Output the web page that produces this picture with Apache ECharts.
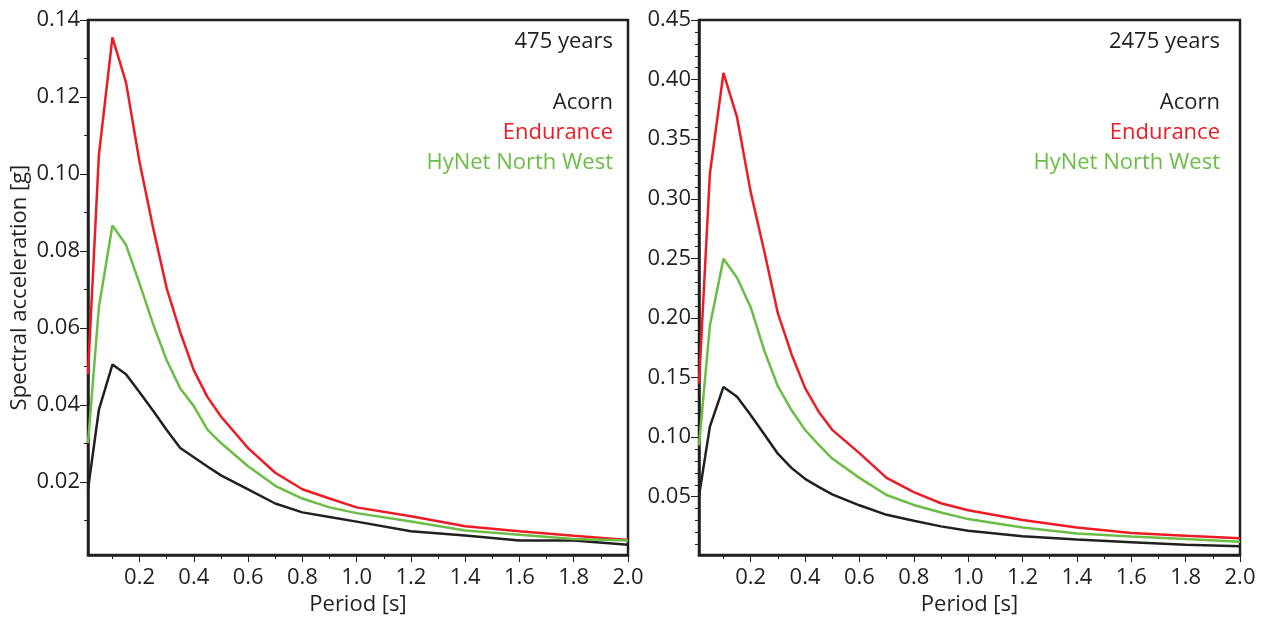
<!DOCTYPE html>
<html>
<head>
<meta charset="utf-8">
<script src="https://cdn.jsdelivr.net/npm/echarts@6/dist/echarts.min.js"></script>
<style>
html,body{margin:0;padding:0;background:#fff;}
#chart{width:1269px;height:621px;}
</style>
</head>
<body>
<div id="chart"></div>
<script>
// ---- data ----
const periods = [0.01,0.05,0.1,0.15,0.2,0.25,0.3,0.35,0.4,0.45,0.5,0.6,0.7,0.8,0.9,1.0,1.2,1.4,1.6,1.8,2.0];

const acorn475     = [0.0181,0.0387,0.0505,0.0480,0.0433,0.0385,0.0335,0.0288,0.0264,0.0240,0.0217,0.0181,0.0144,0.0121,0.0109,0.0097,0.0072,0.0061,0.0048,0.0048,0.0037];
const endurance475 = [0.048,0.1048,0.1355,0.1238,0.1031,0.0860,0.0703,0.0589,0.0490,0.0421,0.0370,0.0288,0.0224,0.0181,0.0157,0.0134,0.0111,0.0085,0.0072,0.0060,0.0049];
const hynet475     = [0.0301,0.0653,0.0866,0.0816,0.0715,0.0610,0.0516,0.0443,0.0397,0.0336,0.0301,0.0241,0.0190,0.0157,0.0134,0.0119,0.0097,0.0074,0.0063,0.0052,0.0048];

const acorn2475     = [0.0506,0.1088,0.1421,0.1338,0.1186,0.1024,0.0861,0.0742,0.0650,0.0583,0.0520,0.0428,0.0348,0.0298,0.0251,0.0215,0.0168,0.0140,0.0118,0.0096,0.0084];
const endurance2475 = [0.145,0.321,0.4057,0.3682,0.3058,0.2559,0.2040,0.1698,0.1413,0.1213,0.1061,0.0866,0.0658,0.0539,0.0445,0.0387,0.0304,0.0242,0.0196,0.0173,0.0151];
const hynet2475     = [0.093,0.1935,0.2497,0.2337,0.2090,0.1727,0.1427,0.1227,0.1061,0.0936,0.0820,0.0658,0.0514,0.0431,0.0367,0.0312,0.0242,0.0192,0.0167,0.0146,0.0123];

const seriesNames = ['Acorn','Endurance','HyNet North West'];
const panelTitles = ['475 years','2475 years'];

const xTickLabels  = ['0.2','0.4','0.6','0.8','1.0','1.2','1.4','1.6','1.8','2.0'];
const xMinorTicks  = ['0.1','0.3','0.5','0.7','0.9','1.1','1.3','1.5','1.7','1.9'];
const yTickLabels475  = ['0.02','0.04','0.06','0.08','0.10','0.12','0.14'];
const yMinorTicks475  = ['0.01','0.03','0.05','0.07','0.09','0.11','0.13'];
const yTickLabels2475 = ['0.05','0.10','0.15','0.20','0.25','0.30','0.35','0.40','0.45'];
const yMinorTicks2475 = ['0.01','0.02','0.03','0.04','0.06','0.07','0.08','0.09','0.11','0.12','0.13','0.14','0.16','0.17','0.18','0.19','0.21','0.22','0.23','0.24','0.26','0.27','0.28','0.29','0.31','0.32','0.33','0.34','0.36','0.37','0.38','0.39','0.41','0.42','0.43','0.44'];

const xRange = [0.01, 2.0];
const yRange475 = [0.001, 0.14];
const yRange2475 = [0.001, 0.45];

// ---- style ----
const INK = '#231f20';
const colors = ['#231f20', '#ed1c24', '#6abd45'];
const FONT = '"Open Sans", "Noto Sans", sans-serif';
const num = a => a.map(Number);

function xAxes(gridIndex) {
  return [
    {
      type: 'value', gridIndex, position: 'bottom', min: xRange[0], max: xRange[1],
      name: 'Period [s]', nameLocation: 'middle', nameGap: 35,
      nameTextStyle: {fontFamily: FONT, fontSize: 22, color: INK},
      axisLine: {show: true, lineStyle: {color: INK, width: 2.5}},
      axisTick: {show: true, length: 7, lineStyle: {color: INK, width: 1}, customValues: num(xTickLabels)},
      axisLabel: {show: true, margin: 12, fontFamily: FONT, fontSize: 22, color: INK,
        customValues: num(xTickLabels), formatter: v => v.toFixed(1)},
      splitLine: {show: false}
    },
    {
      type: 'value', gridIndex, position: 'bottom', min: xRange[0], max: xRange[1],
      axisLine: {show: false},
      axisTick: {show: true, length: 4, lineStyle: {color: INK, width: 1}, customValues: num(xMinorTicks)},
      axisLabel: {show: false},
      splitLine: {show: false}
    }
  ];
}

function yAxes(gridIndex, range, labels, minors, name) {
  return [
    {
      type: 'value', gridIndex, position: 'left', min: range[0], max: range[1],
      name: name, nameLocation: 'middle', nameGap: 57,
      nameTextStyle: {fontFamily: FONT, fontSize: 22, color: INK},
      axisLine: {show: true, lineStyle: {color: INK, width: 2.5}},
      axisTick: {show: true, length: 8, lineStyle: {color: INK, width: 1}, customValues: num(labels)},
      axisLabel: {show: true, margin: 8, fontFamily: FONT, fontSize: 22, color: INK,
        customValues: num(labels), formatter: v => v.toFixed(2)},
      splitLine: {show: false}
    },
    {
      type: 'value', gridIndex, position: 'left', min: range[0], max: range[1],
      axisLine: {show: false},
      axisTick: {show: true, length: 4, lineStyle: {color: INK, width: 1}, customValues: num(minors)},
      axisLabel: {show: false},
      splitLine: {show: false}
    }
  ];
}

function lines(xIdx, yIdx, dataSets) {
  return dataSets.map((vals, i) => ({
    name: seriesNames[i], type: 'line', xAxisIndex: xIdx, yAxisIndex: yIdx,
    data: periods.map((p, k) => [p, vals[k]]),
    showSymbol: false, symbol: 'none',
    lineStyle: {color: colors[i], width: 2.5},
    itemStyle: {color: colors[i]},
    z: 3
  }));
}

function panelText(rightX, title) {
  const rows = [
    {text: title, y: 42, color: INK},
    {text: seriesNames[0], y: 103, color: colors[0]},
    {text: seriesNames[1], y: 133, color: colors[1]},
    {text: seriesNames[2], y: 163, color: colors[2]}
  ];
  return rows.map(r => ({
    type: 'text', x: rightX, y: r.y, z: 10,
    style: {text: r.text, fill: r.color, font: '22px ' + FONT, align: 'right', verticalAlign: 'middle'}
  }));
}

const chart = echarts.init(document.getElementById('chart'), null, {renderer: 'canvas'});
chart.setOption({
  animation: false,
  backgroundColor: '#fff',
  grid: [
    {left: 88, right: 641, top: 20, bottom: 62, show: true, borderColor: INK, borderWidth: 2.5, backgroundColor: 'transparent', containLabel: false},
    {left: 699, right: 29, top: 20, bottom: 62, show: true, borderColor: INK, borderWidth: 2.5, backgroundColor: 'transparent', containLabel: false}
  ],
  xAxis: [...xAxes(0), ...xAxes(1)],
  yAxis: [...yAxes(0, yRange475, yTickLabels475, yMinorTicks475, 'Spectral acceleration [g]'),
          ...yAxes(1, yRange2475, yTickLabels2475, yMinorTicks2475, '')],
  series: [
    ...lines(0, 0, [acorn475, endurance475, hynet475]),
    ...lines(2, 2, [acorn2475, endurance2475, hynet2475])
  ],
  graphic: [...panelText(613, panelTitles[0]), ...panelText(1220, panelTitles[1])]
});
</script>
</body>
</html>
